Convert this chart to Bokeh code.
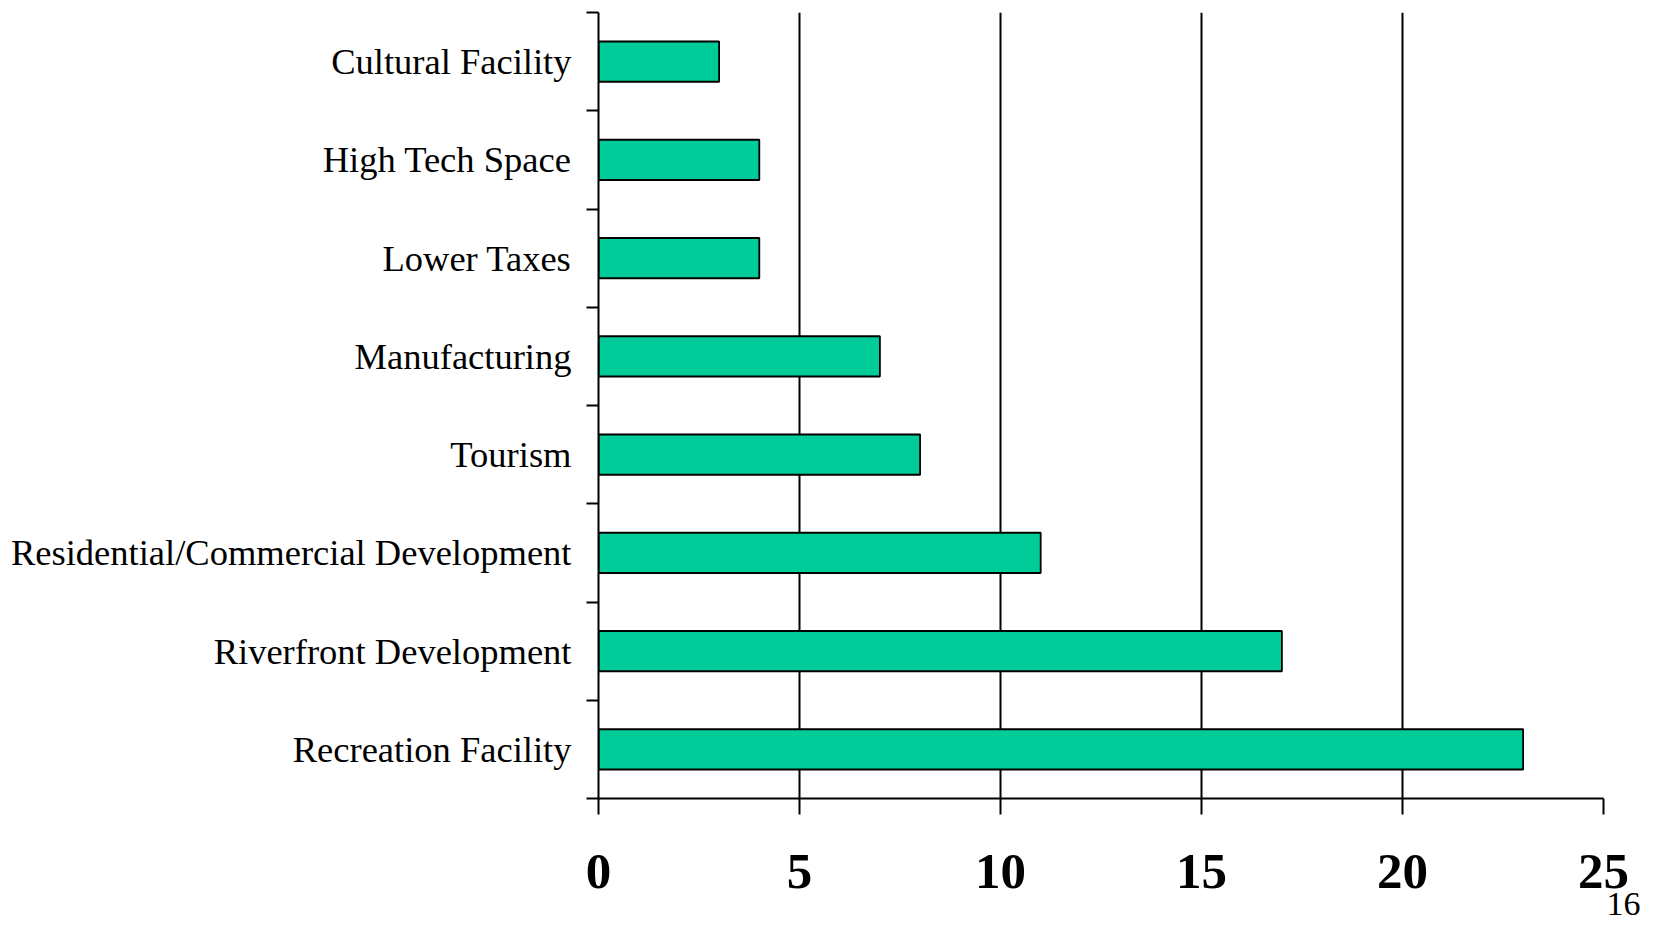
from bokeh.plotting import figure
from bokeh.models import FixedTicker, Range1d, Title, ColumnDataSource
from bokeh.embed import file_html
from bokeh.resources import INLINE

# Data (bottom to top)
categories = [
    "Recreation Facility",
    "Riverfront Development",
    "Residential/Commercial Development",
    "Tourism",
    "Manufacturing",
    "Lower Taxes",
    "High Tech Space",
    "Cultural Facility",
]
values = [23, 17, 11, 8, 7, 4, 4, 3]
x_ticks = [0, 5, 10, 15, 20, 25]
page_number = "16"

n = len(categories)
centers = [i + 0.5 for i in range(n)]
src = ColumnDataSource(dict(y=centers, v=values, name=categories))

p = figure(width=1643, height=917, output_backend="svg", toolbar_location=None,
           x_range=Range1d(0, 25), y_range=Range1d(0, n),
           min_border_left=598, min_border_right=40, min_border_top=12, min_border_bottom=119)
p.outline_line_color = None
p.background_fill_color = "white"
p.border_fill_color = "white"

p.hbar(y="y", right="v", left=0, height=0.41, source=src,
       fill_color="#00CC99", line_color="black", line_width=1.8)

# x axis
xa = p.xaxis[0]
xa.ticker = FixedTicker(ticks=x_ticks, minor_ticks=[])
xa.axis_line_color = "black"
xa.axis_line_width = 2
xa.major_tick_line_width = 2
xa.major_tick_in = 0
xa.major_tick_out = 16
xa.minor_tick_line_color = None
xa.major_label_text_font = "Liberation Serif"
xa.major_label_text_font_style = "bold"
xa.major_label_text_font_size = "51px"
xa.major_label_text_color = "black"
xa.major_label_standoff = 40

# y axis
ya = p.yaxis[0]
ya.ticker = FixedTicker(ticks=centers, minor_ticks=list(range(n + 1)))
ya.major_label_overrides = {c: name for c, name in zip(centers, categories)}
ya.axis_line_color = "black"
ya.axis_line_width = 2
ya.major_tick_in = 0
ya.major_tick_out = 0
ya.major_tick_line_color = None
ya.minor_tick_in = 0
ya.minor_tick_out = 12
ya.minor_tick_line_width = 2
ya.minor_tick_line_color = "black"
ya.major_label_text_font = "Liberation Serif"
ya.major_label_text_font_size = "36.5px"
ya.major_label_text_color = "black"
ya.major_label_standoff = 15

# grids
p.xgrid.ticker = FixedTicker(ticks=x_ticks[1:])
p.xgrid.grid_line_color = "black"
p.xgrid.grid_line_width = 2
p.ygrid.grid_line_color = None

p.add_layout(Title(text=page_number, align="right", offset=-37, standoff=0,
                   text_font="Liberation Serif", text_font_size="34px",
                   text_font_style="normal", text_color="black"), "below")

open("out.html", "w").write(file_html(p, INLINE))
